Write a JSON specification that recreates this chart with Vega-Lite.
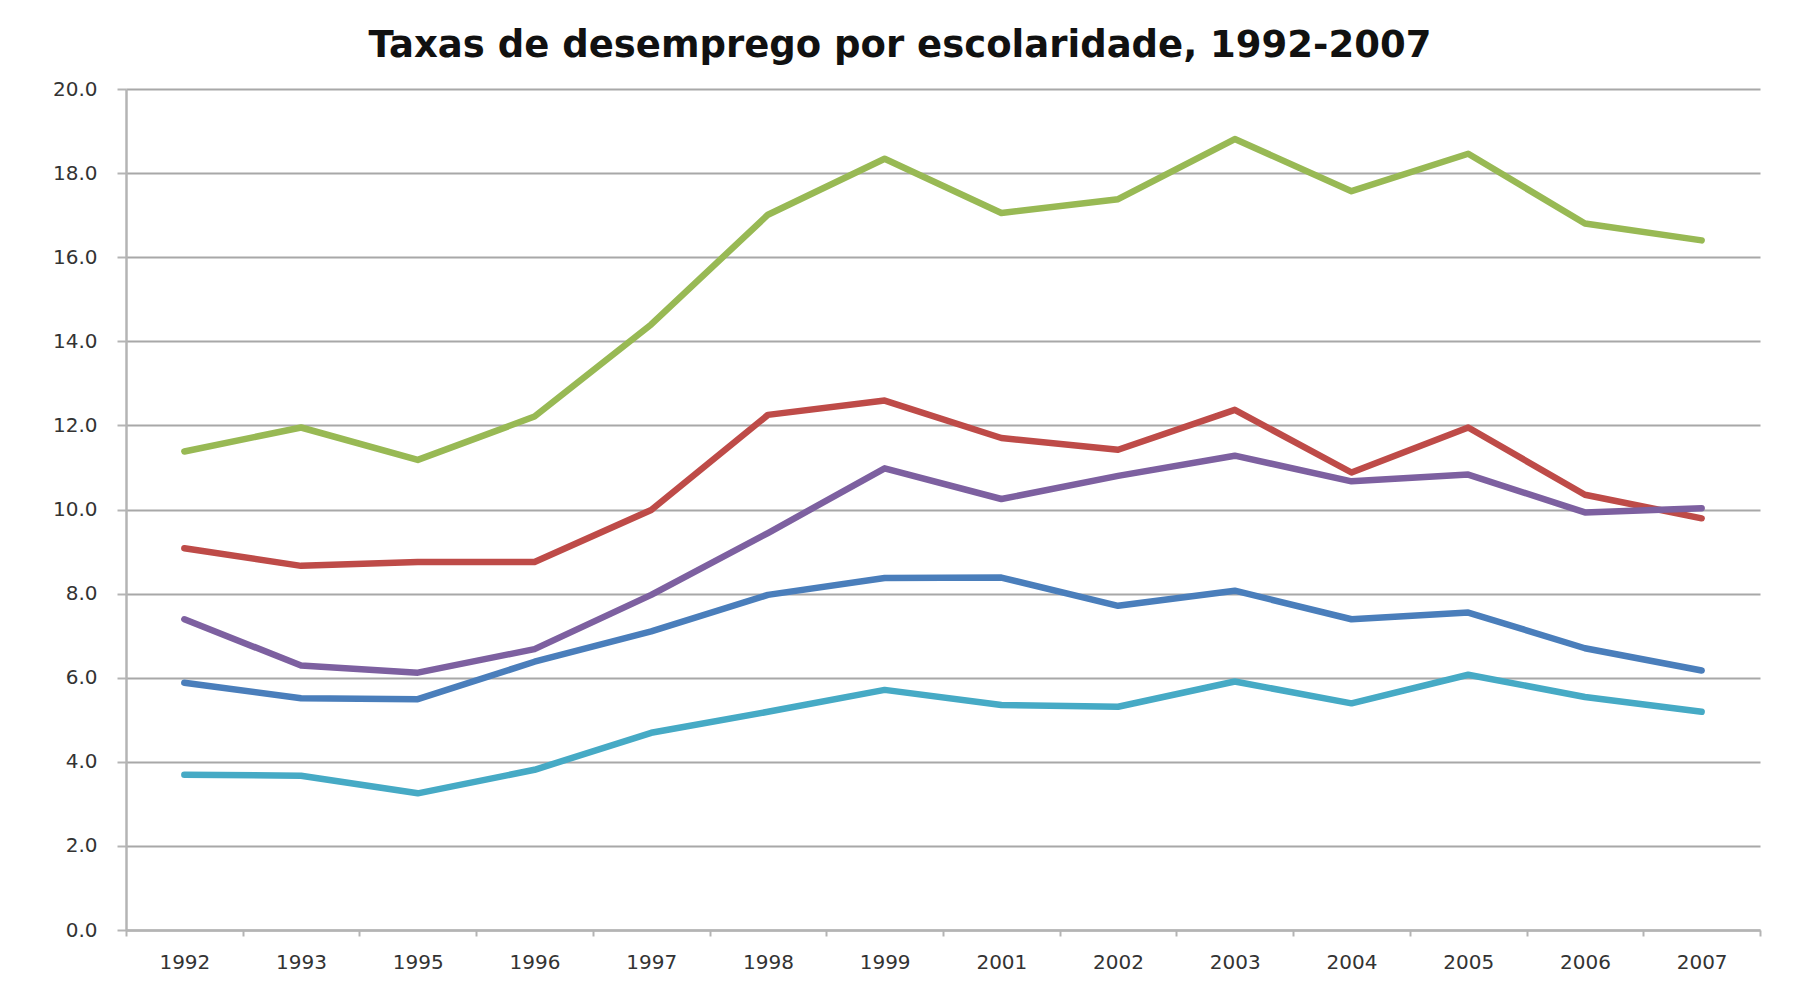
{
  "$schema": "https://vega.github.io/schema/vega-lite/v6.json",
  "autosize": {"type": "none"},
  "width": 1634,
  "height": 841,
  "padding": {"left": 126, "top": 89, "right": 34, "bottom": 72},
  "background": "white",
  "title": {
    "text": "Taxas de desemprego por escolaridade, 1992-2007",
    "font": "DejaVu Sans",
    "fontSize": 37,
    "fontWeight": "bold",
    "color": "#111111",
    "anchor": "middle",
    "frame": "group",
    "baseline": "alphabetic",
    "offset": 29,
    "dx": -43,
    "dy": 44
  },
  "data": {
    "values": [
      {"ano": "1992", "serie": "Série 1", "taxa": 5.88},
      {"ano": "1993", "serie": "Série 1", "taxa": 5.51},
      {"ano": "1995", "serie": "Série 1", "taxa": 5.49},
      {"ano": "1996", "serie": "Série 1", "taxa": 6.38},
      {"ano": "1997", "serie": "Série 1", "taxa": 7.10},
      {"ano": "1998", "serie": "Série 1", "taxa": 7.97},
      {"ano": "1999", "serie": "Série 1", "taxa": 8.37},
      {"ano": "2001", "serie": "Série 1", "taxa": 8.38},
      {"ano": "2002", "serie": "Série 1", "taxa": 7.71},
      {"ano": "2003", "serie": "Série 1", "taxa": 8.07},
      {"ano": "2004", "serie": "Série 1", "taxa": 7.39},
      {"ano": "2005", "serie": "Série 1", "taxa": 7.55},
      {"ano": "2006", "serie": "Série 1", "taxa": 6.70},
      {"ano": "2007", "serie": "Série 1", "taxa": 6.17},

      {"ano": "1992", "serie": "Série 2", "taxa": 9.08},
      {"ano": "1993", "serie": "Série 2", "taxa": 8.66},
      {"ano": "1995", "serie": "Série 2", "taxa": 8.75},
      {"ano": "1996", "serie": "Série 2", "taxa": 8.75},
      {"ano": "1997", "serie": "Série 2", "taxa": 9.99},
      {"ano": "1998", "serie": "Série 2", "taxa": 12.25},
      {"ano": "1999", "serie": "Série 2", "taxa": 12.59},
      {"ano": "2001", "serie": "Série 2", "taxa": 11.70},
      {"ano": "2002", "serie": "Série 2", "taxa": 11.42},
      {"ano": "2003", "serie": "Série 2", "taxa": 12.37},
      {"ano": "2004", "serie": "Série 2", "taxa": 10.88},
      {"ano": "2005", "serie": "Série 2", "taxa": 11.95},
      {"ano": "2006", "serie": "Série 2", "taxa": 10.35},
      {"ano": "2007", "serie": "Série 2", "taxa": 9.79},

      {"ano": "1992", "serie": "Série 3", "taxa": 11.38},
      {"ano": "1993", "serie": "Série 3", "taxa": 11.95},
      {"ano": "1995", "serie": "Série 3", "taxa": 11.18},
      {"ano": "1996", "serie": "Série 3", "taxa": 12.21},
      {"ano": "1997", "serie": "Série 3", "taxa": 14.40},
      {"ano": "1998", "serie": "Série 3", "taxa": 17.01},
      {"ano": "1999", "serie": "Série 3", "taxa": 18.34},
      {"ano": "2001", "serie": "Série 3", "taxa": 17.05},
      {"ano": "2002", "serie": "Série 3", "taxa": 17.38},
      {"ano": "2003", "serie": "Série 3", "taxa": 18.81},
      {"ano": "2004", "serie": "Série 3", "taxa": 17.57},
      {"ano": "2005", "serie": "Série 3", "taxa": 18.46},
      {"ano": "2006", "serie": "Série 3", "taxa": 16.80},
      {"ano": "2007", "serie": "Série 3", "taxa": 16.40},

      {"ano": "1992", "serie": "Série 4", "taxa": 7.39},
      {"ano": "1993", "serie": "Série 4", "taxa": 6.29},
      {"ano": "1995", "serie": "Série 4", "taxa": 6.12},
      {"ano": "1996", "serie": "Série 4", "taxa": 6.68},
      {"ano": "1997", "serie": "Série 4", "taxa": 7.97},
      {"ano": "1998", "serie": "Série 4", "taxa": 9.44},
      {"ano": "1999", "serie": "Série 4", "taxa": 10.98},
      {"ano": "2001", "serie": "Série 4", "taxa": 10.25},
      {"ano": "2002", "serie": "Série 4", "taxa": 10.80},
      {"ano": "2003", "serie": "Série 4", "taxa": 11.28},
      {"ano": "2004", "serie": "Série 4", "taxa": 10.67},
      {"ano": "2005", "serie": "Série 4", "taxa": 10.83},
      {"ano": "2006", "serie": "Série 4", "taxa": 9.93},
      {"ano": "2007", "serie": "Série 4", "taxa": 10.03},

      {"ano": "1992", "serie": "Série 5", "taxa": 3.69},
      {"ano": "1993", "serie": "Série 5", "taxa": 3.67},
      {"ano": "1995", "serie": "Série 5", "taxa": 3.25},
      {"ano": "1996", "serie": "Série 5", "taxa": 3.81},
      {"ano": "1997", "serie": "Série 5", "taxa": 4.69},
      {"ano": "1998", "serie": "Série 5", "taxa": 5.19},
      {"ano": "1999", "serie": "Série 5", "taxa": 5.71},
      {"ano": "2001", "serie": "Série 5", "taxa": 5.35},
      {"ano": "2002", "serie": "Série 5", "taxa": 5.31},
      {"ano": "2003", "serie": "Série 5", "taxa": 5.91},
      {"ano": "2004", "serie": "Série 5", "taxa": 5.39},
      {"ano": "2005", "serie": "Série 5", "taxa": 6.07},
      {"ano": "2006", "serie": "Série 5", "taxa": 5.54},
      {"ano": "2007", "serie": "Série 5", "taxa": 5.19}
    ]
  },
  "mark": {"type": "line", "strokeWidth": 6.5, "strokeJoin": "round", "strokeCap": "round"},
  "encoding": {
    "x": {
      "field": "ano",
      "type": "ordinal",
      "scale": {"type": "band", "paddingInner": 0, "paddingOuter": 0},
      "axis": {
        "title": null,
        "labelAngle": 0,
        "tickBand": "extent",
        "grid": false,
        "domainColor": "#b4b4b4",
        "domainWidth": 2.5,
        "tickColor": "#b4b4b4",
        "tickWidth": 2,
        "tickSize": 6,
        "labelFont": "DejaVu Sans",
        "labelFontSize": 20,
        "labelColor": "#333333",
        "labelPadding": 16
      }
    },
    "y": {
      "field": "taxa",
      "type": "quantitative",
      "scale": {"domain": [0, 20], "nice": false, "zero": true},
      "axis": {
        "title": null,
        "values": [0, 2, 4, 6, 8, 10, 12, 14, 16, 18, 20],
        "format": ".1f",
        "grid": true,
        "gridColor": "#a8a8a8",
        "gridWidth": 2,
        "domainColor": "#b4b4b4",
        "domainWidth": 2.5,
        "tickColor": "#b4b4b4",
        "tickWidth": 2,
        "tickSize": 9,
        "labelFont": "DejaVu Sans",
        "labelFontSize": 20,
        "labelColor": "#333333",
        "labelPadding": 20
      }
    },
    "color": {
      "field": "serie",
      "type": "nominal",
      "scale": {
        "domain": ["Série 1", "Série 2", "Série 3", "Série 4", "Série 5"],
        "range": ["#4a7ebb", "#be4b48", "#98b954", "#7d60a0", "#46aac5"]
      },
      "legend": null
    }
  },
  "config": {
    "view": {"stroke": null}
  }
}
